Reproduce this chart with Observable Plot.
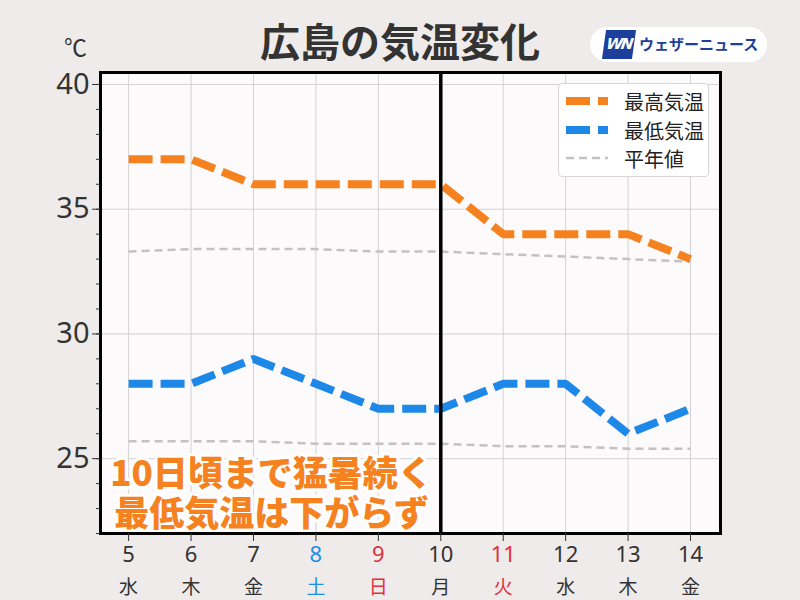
<!DOCTYPE html>
<html><head><meta charset="utf-8">
<script src="https://cdn.jsdelivr.net/npm/d3@7"></script>
<script src="https://cdn.jsdelivr.net/npm/@observablehq/plot@0.6"></script>
<style>
html,body{margin:0;padding:0;background:#efebea;}
#wrap{position:relative;width:800px;height:600px;background:#efebea;font-family:"Noto Sans CJK JP","Noto Sans",sans-serif;overflow:hidden;}
#wrap svg.plot{position:absolute;left:0;top:0;}
.title{position:absolute;left:0;width:800px;top:20px;text-align:center;font-size:40px;font-weight:700;color:#333;line-height:1;}
.unit{position:absolute;left:64px;top:35px;font-size:23px;color:#333;line-height:1;}
.logo{position:absolute;left:590px;top:27px;width:177px;height:35px;border-radius:18px;background:#fff;}
.logo .wn{position:absolute;left:14px;top:3px;width:30px;height:29px;background:#1b3f9a;transform:skewX(-8deg);color:#fff;font:italic 700 15px "DejaVu Sans",sans-serif;line-height:29px;text-align:center;letter-spacing:-2px;}
.logo .tx{position:absolute;left:49px;top:6px;font-size:15px;font-weight:700;color:#1b3f9a;line-height:22px;white-space:nowrap;}
.legend{position:absolute;left:558px;top:83px;width:151px;height:94px;background:#fff;border:1px solid #d6d6d6;border-radius:4px;box-sizing:border-box;}
.legend .row{position:absolute;left:7px;height:28px;display:flex;align-items:center;}
.legend .row span{margin-left:16px;font-size:20px;color:#222;}
</style></head>
<body><div id="wrap"></div>
<script>
const days = [5,6,7,8,9,10,11,12,13,14];
const weekdays = ["水","木","金","土","日","月","火","水","木","金"];
const labelColors = ["#333","#333","#333","#1e8fe6","#e0323c","#333","#e0323c","#333","#333","#333"];
const maxTemp = [37,37,36,36,36,36,34,34,34,33];
const minTemp = [28,28,29,28,27,27,28,28,26,27];
const normalMax = [33.3,33.4,33.4,33.4,33.3,33.3,33.2,33.1,33.0,32.9];
const normalMin = [25.7,25.7,25.7,25.6,25.6,25.6,25.5,25.5,25.4,25.4];
const yMajor = [25,30,35,40];
const yMinor = d3.range(22,41);
const markerDay = 10;
const annotation = "10日頃まで猛暑続く\n最低気温は下がらず";

const ORANGE = "#f5821f", BLUE = "#1e88e8", GRAY = "#c2c2c2";
const rows = days.map((d,i)=>({d, wd:weekdays[i], c:labelColors[i], hi:maxTemp[i], lo:minTemp[i], nhi:normalMax[i], nlo:normalMin[i]}));

const chart = Plot.plot({
  width: 800, height: 600,
  marginLeft: 100, marginRight: 80, marginTop: 72, marginBottom: 67,
  style: {fontFamily: '"Noto Sans CJK JP","Noto Sans",sans-serif', background: "transparent", color: "#333"},
  x: {domain: [4.55, 14.48], axis: null, label: null},
  y: {domain: [22, 40.48], axis: null, label: null},
  marks: [
    Plot.frame({fill: "#fcfafb"}),
    Plot.gridX(days, {stroke: "#d3d3d3", strokeOpacity: 1, strokeWidth: 1}),
    Plot.gridY(yMajor, {stroke: "#d3d3d3", strokeOpacity: 1, strokeWidth: 1}),
    Plot.line(rows, {x: "d", y: "nhi", stroke: GRAY, strokeWidth: 2.5, strokeDasharray: "8,5", strokeLinecap: "butt"}),
    Plot.line(rows, {x: "d", y: "nlo", stroke: GRAY, strokeWidth: 2.5, strokeDasharray: "8,5", strokeLinecap: "butt"}),
    Plot.line(rows, {x: "d", y: "hi", stroke: ORANGE, strokeWidth: 8, strokeDasharray: "24,8", strokeLinecap: "butt", strokeLinejoin: "miter"}),
    Plot.line(rows, {x: "d", y: "lo", stroke: BLUE, strokeWidth: 8, strokeDasharray: "24,8", strokeLinecap: "butt", strokeLinejoin: "miter"}),
    Plot.text([annotation], {text: d => d, frameAnchor: "bottom-left", textAnchor: "middle", lineAnchor: "bottom", dx: 171, dy: -8, fontSize: 35, fontWeight: 900, lineHeight: 1.14, fill: ORANGE, stroke: "#fff", strokeWidth: 6, strokeLinejoin: "round"}),
    Plot.ruleX([markerDay], {stroke: "#000", strokeWidth: 3.5}),
    Plot.frame({stroke: "#000", strokeWidth: 3}),
    Plot.axisY(yMinor, {tickSize: 4, tickFormat: () => "", stroke: "#333", label: null}),
    Plot.axisY(yMajor, {tickSize: 8, tickPadding: 3, fontSize: 29, fontFamily: '"Noto Sans",sans-serif', stroke: "#333", fill: "#333", label: null}),
    Plot.axisX(days, {tickSize: 8, tickFormat: () => "", stroke: "#333", anchor: "bottom", label: null}),
    Plot.text(rows, {x: "d", text: d => String(d.d), fill: "c", frameAnchor: "bottom", dy: 28, fontSize: 22, fontFamily: '"Noto Sans",sans-serif'}),
    Plot.text(rows, {x: "d", text: "wd", fill: "c", frameAnchor: "bottom", dy: 60, fontSize: 19})
  ]
});
chart.classList.add("plot");
const wrap = document.getElementById("wrap");
wrap.appendChild(chart);

wrap.insertAdjacentHTML("beforeend", `
<div class="title">広島の気温変化</div>
<div class="unit">℃</div>
<div class="logo"><div class="wn">WN</div><div class="tx">ウェザーニュース</div></div>
<div class="legend">
  <div class="row" style="top:3px"><svg width="42" height="10"><line x1="0" y1="5" x2="42" y2="5" stroke="${ORANGE}" stroke-width="8" stroke-dasharray="24,8"/></svg><span>最高気温</span></div>
  <div class="row" style="top:32px"><svg width="42" height="10"><line x1="0" y1="5" x2="42" y2="5" stroke="${BLUE}" stroke-width="8" stroke-dasharray="24,8"/></svg><span>最低気温</span></div>
  <div class="row" style="top:60px"><svg width="42" height="10"><line x1="0" y1="5" x2="42" y2="5" stroke="${GRAY}" stroke-width="2.5" stroke-dasharray="8,5"/></svg><span>平年値</span></div>
</div>
`);
</script></body></html>
